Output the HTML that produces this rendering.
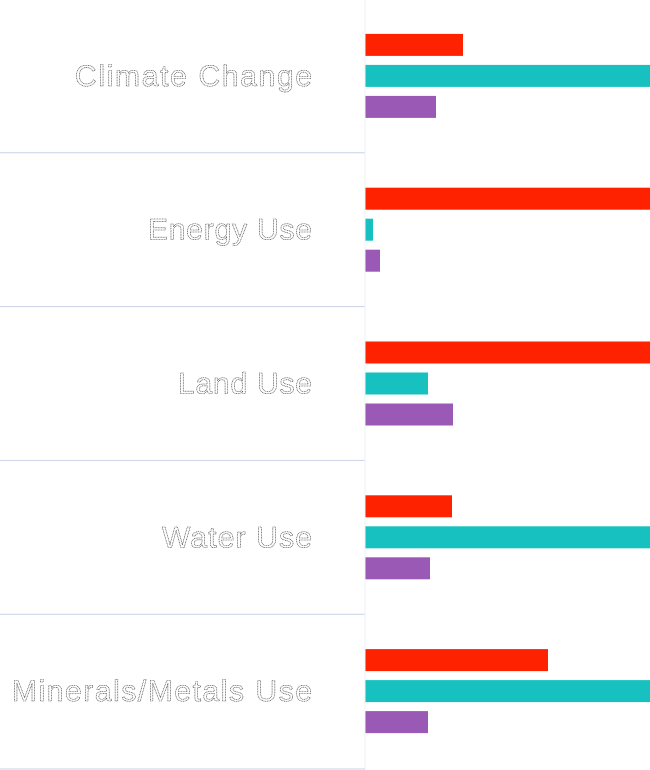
<!DOCTYPE html>
<html><head><meta charset="utf-8"><style>
html,body{margin:0;padding:0;background:#fff;}
svg{display:block;}
text{font-family:"Liberation Sans",sans-serif;}
</style></head><body>
<svg id="chart" width="650" height="770" xmlns="http://www.w3.org/2000/svg"></svg>
<script>
const categories = ["Climate Change","Energy Use","Land Use","Water Use","Minerals/Metals Use"];
const seriesRed = [98, 400, 400, 87, 183];
const seriesTeal = [400, 8, 63, 400, 400];
const seriesPurple = [71, 15, 88, 65, 63];
const seriesNames = ["red","teal","purple"];
const colors = ["#ff2200","#17c1bf","#9b59b6"];
const labelLengths = [237, 164, 134, 150, 300];

const svgEl = document.getElementById('chart');
const NS = "http://www.w3.org/2000/svg";
const x0 = 365, plotTop = 0, plotBottom = 769;
const band = (plotBottom - plotTop) / categories.length;
const yCenter = i => plotTop + band * i + band / 2 - 1;
const xScale = v => v * 1;

function mk(tag, attrs){const e=document.createElementNS(NS,tag);for(const k in attrs)e.setAttribute(k,attrs[k]);svgEl.appendChild(e);return e;}

const all = [seriesRed, seriesTeal, seriesPurple];
categories.forEach((c, i) => {
  if (i > 0) {
    const l = mk('line',{x1:0,x2:x0,y1:plotTop+band*i-1,y2:plotTop+band*i-1,stroke:'#c8d2ea','stroke-width':1});
    
    
  }
  const t = mk('text',{x:312,y:yCenter(i)+10,'text-anchor':'end','font-size':30,'font-weight':300,fill:'#fff',stroke:'#333','stroke-width':0.6,'stroke-dasharray':'1,0.6',textLength:labelLengths[i],lengthAdjust:'spacing'});
  t.textContent = c;
  
  
  all.forEach((s, j) => {
    const r = mk('rect',{x:x0,y:yCenter(i)+(j-1)*31-11,width:Math.max(0,xScale(s[i])),height:22,fill:colors[j]});
    
    
  });
});
const bl = mk('line',{x1:x0,x2:x0,y1:0,y2:plotBottom+1,stroke:'#eef0f6','stroke-width':1});


const bt = mk('line',{x1:0,x2:x0,y1:plotBottom,y2:plotBottom,stroke:'#c8d2ea','stroke-width':1});


</script>
</body></html>
